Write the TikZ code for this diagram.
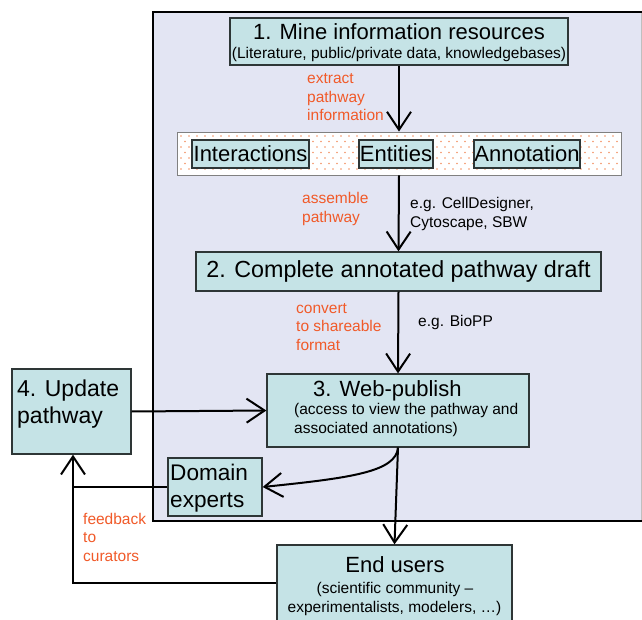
\documentclass[tikz,border=0pt]{standalone}
\usepackage{fontspec}
\setmainfont{Liberation Sans}
\usetikzlibrary{arrows.meta,calc}
\definecolor{boxfill}{HTML}{C5E3E6}
\definecolor{framefill}{HTML}{E3E5F3}
\definecolor{lblorange}{HTML}{F15A29}
\definecolor{boxline}{HTML}{2E3636}
\definecolor{dotorange}{HTML}{F39468}
\begin{document}
\begin{tikzpicture}[x=1pt,y=-1pt,
  box/.style={draw=boxline,fill=boxfill,line width=1.3pt,inner sep=0pt},
  txt/.style={inner sep=0pt,anchor=base west},
  big/.style={font=\fontsize{22}{26}\selectfont},
  small/.style={font=\fontsize{15.5}{18.5}\selectfont},
  note/.style={inner sep=0pt,anchor=base west,align=left,font=\fontsize{15.5}{18.5}\selectfont},
  orangenote/.style={note,text=lblorange},
  tip/.style={-{Straight Barb[length=18pt,width=24pt,line width=2pt]}},
  arr/.style={line width=2pt,tip},
  fbline/.style={line width=2.5pt}]
\clip (0,0) rectangle (642,620);
\fill[white] (0,0) rectangle (642,620);
% framed region
\fill[framefill] (153,12) rectangle (641,521);
\draw[gray!50,line width=0.8pt] (641,12) -- (641,521);
\draw[line width=2.8pt] (642,12) -- (153,12) -- (153,521) -- (642,521);

% box 1
\node[box,minimum width=338,minimum height=47] (b1) at (399,41.5) {};
\node[txt,big,anchor=base] (b1t) at (399,40) {1. Mine information resources};
\node[txt,small,anchor=base] (b1s) at (399,59) {(Literature, public/private data, knowledgebases)};

% dotted band
\node[draw=gray,fill=white,line width=0.8pt,minimum width=444,minimum height=43,inner sep=0pt] (band) at (399,153.5) {};
\foreach \r in {0,...,6}{
  \pgfmathsetmacro{\yy}{136+5.5*\r}
  \pgfmathsetmacro{\off}{mod(\r,2)*4}
  \foreach \c in {0,...,54}{
    \fill[dotorange] ({181+\off+8*\c},\yy) circle (0.95);
  }
}
\node[box,big,minimum width=117,minimum height=28] (inter) at (250.5,154) {Interactions};
\node[box,big,minimum width=74,minimum height=28] (ent) at (396,154) {Entities};
\node[box,big,minimum width=106,minimum height=28] (ann) at (527,154) {Annotation};

% box 2
\node[box,minimum width=405,minimum height=39,font=\fontsize{23.3}{26}\selectfont] (b2) at (398.5,271.5) {2. Complete annotated pathway draft};

% box 3
\node[box,minimum width=262,minimum height=73] (b3) at (398,410.5) {};
\node[txt,big] (b3t) at (313,396) {3. Web-publish};
\node[note] (b3s) at (294,414) {(access to view the pathway and};
\node[note] (b3u) at (294,433) {associated annotations)};

% box 4
\node[box,minimum width=119,minimum height=85] (b4) at (71.5,411.5) {};
\node[txt,font=\fontsize{23}{26}\selectfont] (b4t) at (17,396) {4. Update};
\node[txt,font=\fontsize{23}{26}\selectfont] (b4u) at (17,423) {pathway};

% domain experts
\node[box,minimum width=94,minimum height=58] (dom) at (215,487) {};
\node[txt,font=\fontsize{22.6}{26}\selectfont] (domt) at (170,480) {Domain};
\node[txt,font=\fontsize{22.6}{26}\selectfont] (domu) at (170,507) {experts};

% end users
\node[box,minimum width=235,minimum height=81] (eu) at (394.5,585.5) {};
\node[txt,big,anchor=base] (eut) at (395,572) {End users};
\node[txt,small,anchor=base] (eus) at (395,593) {(scientific community --};
\node[txt,small,anchor=base] (euu) at (394.5,612) {experimentalists, modelers, \dots)};

% labels
\node[orangenote] (l1) at (307,84) {extract};
\node[orangenote] (l1b) at (307,102.5) {pathway};
\node[orangenote] (l1c) at (307,121) {information};
\node[orangenote] (l2) at (302,204) {assemble};
\node[orangenote] (l2b) at (302,223) {pathway};
\node[note] (n2) at (410,209) {e.g. CellDesigner,};
\node[note] (n2b) at (410,228) {Cytoscape, SBW};
\node[orangenote] (l3) at (296,313) {convert};
\node[orangenote] (l3b) at (296,331.5) {to shareable};
\node[orangenote] (l3c) at (296,350) {format};
\node[note] (n3) at (418,326) {e.g. BioPP};
\node[orangenote] (l4) at (83,524) {feedback};
\node[orangenote] (l4b) at (83,542.5) {to};
\node[orangenote] (l4c) at (83,561) {curators};

% connectors
\draw[arr] (b1.south) -- (band.north);
\draw[arr] (band.south) -- (b2.north);
\draw[arr] (b2.south) -- (b3.north);
\draw[arr] (b4.east) -- (b3.west);
\draw[arr] (b3.south) .. controls (396,472) and (350,478) .. (dom.east);
\draw[arr] (b3.south) -- (eu.north);
\coordinate (fb) at ($(b4.south |- dom.west)+(1.5,0)$);
\coordinate (fbb) at ($(eu.west)+(0,-2.5)$);
\draw[fbline] (dom.west) -- (fb);
\draw[fbline,tip] (fbb) -| ($(b4.south)+(1.5,0)$);
\end{tikzpicture}
\end{document}
